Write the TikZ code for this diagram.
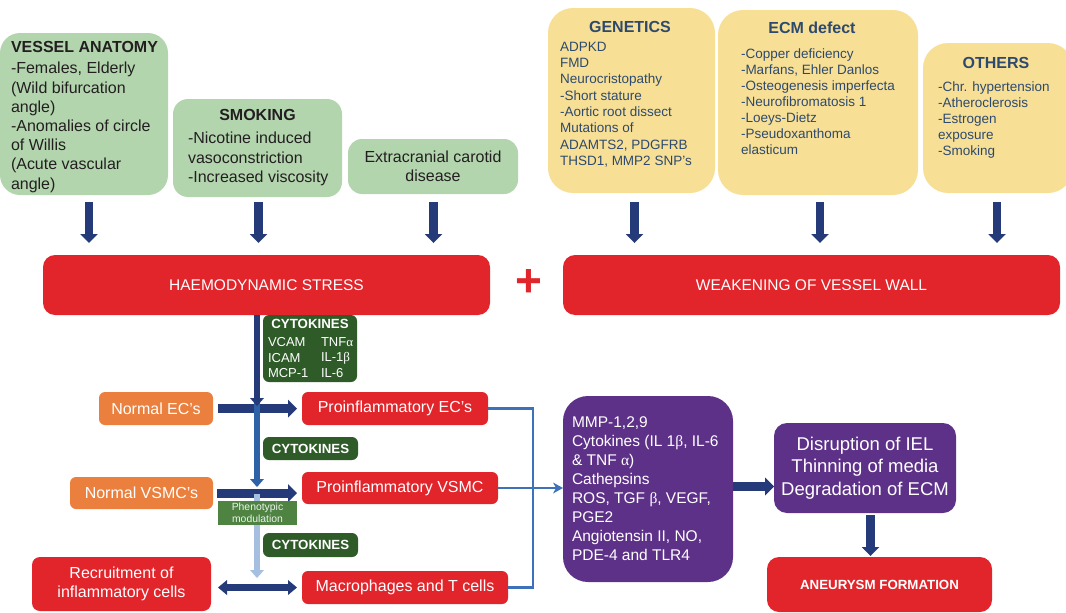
\documentclass[tikz,border=0pt]{standalone}
\usepackage{fontspec}
\setmainfont{Liberation Sans}
\newfontfamily\grk{Liberation Serif}
\usetikzlibrary{arrows.meta}
\newcommand\setfs[2]{\fontsize{#1}{#2}\selectfont}
\definecolor{gfill}{HTML}{B3D5AE}
\definecolor{yfill}{HTML}{F8DF96}
\definecolor{rfill}{HTML}{E2242B}
\definecolor{ofill}{HTML}{EB7F3D}
\definecolor{pfill}{HTML}{5E3189}
\definecolor{dgfill}{HTML}{2E5B27}
\definecolor{phfill}{HTML}{4E8342}
\definecolor{navy}{HTML}{253A78}
\definecolor{mblue}{HTML}{2E62A7}
\definecolor{lblue}{HTML}{A4BFDF}
\definecolor{bblue}{HTML}{3D72BA}
\definecolor{dtext}{HTML}{231F20}
\definecolor{ytext}{HTML}{2D4A6E}
\tikzset{
  box/.style={inner sep=0pt, outer sep=0pt, anchor=north west, align=center},
  gbox/.style={box, fill=gfill, text=dtext},
  ybox/.style={box, fill=yfill, text=ytext},
  rbox/.style={box, fill=rfill, text=white},
  obox/.style={box, fill=ofill, text=white, rounded corners=6pt, font=\setfs{16}{19}},
  pbox/.style={box, fill=pfill, text=white},
  cybox/.style={box, fill=dgfill, text=white, rounded corners=6pt, font=\setfs{13.3}{15}\bfseries},
  txt/.style={inner sep=0pt, outer sep=0pt, align=left, anchor=north west},
  ttl/.style={inner sep=0pt, outer sep=0pt, font=\setfs{16}{19}\bfseries},
  bigarrow/.style={draw=navy, line width=8.5pt, -{Triangle[width=17.5pt,length=9pt,line width=0pt]}},
  harrow/.style={draw=navy, line width=9pt, -{Triangle[width=18pt,length=9pt,line width=0pt]}},
  vline/.style={line width=6.5pt, -{Triangle[width=14pt,length=8pt,line width=0pt]}},
}
\begin{document}
\begin{tikzpicture}[x=1pt,y=-1pt]
\useasboundingbox (0,0) rectangle (1066,613);

% ---------- top green boxes ----------
\node[gbox, rounded corners=20pt, minimum width=168pt, minimum height=162pt] (va) at (0,33) {};
\node[txt, text=dtext, font=\setfs{16}{19.2}] (vat) at (11,41)
  {\textbf{VESSEL ANATOMY}\\[2.6pt]-Females, Elderly\\(Wild bifurcation\\angle)\\-Anomalies of circle\\of Willis\\(Acute vascular\\angle)};

\node[gbox, rounded corners=15pt, minimum width=169pt, minimum height=98pt] (sm) at (173,99) {};
\node[ttl, text=dtext] (smt) at (257.5,115) {SMOKING};
\node[txt, text=dtext, font=\setfs{16}{19.5}] (smb) at (188,132)
  {-Nicotine induced\\vasoconstriction\\-Increased viscosity};

\node[gbox, rounded corners=14pt, minimum width=170pt, minimum height=55pt, font=\setfs{16}{19}] (ex) at (348,139)
  {Extracranial carotid\\disease};

% ---------- top yellow boxes ----------
\node[ybox, rounded corners=25pt, minimum width=167pt, minimum height=185pt] (gen) at (548,8) {};
\node[ttl, text=ytext] (gent) at (630,27) {GENETICS};
\node[txt, text=ytext, font=\setfs{13.5}{16.3}] (genb) at (560,42)
  {ADPKD\\FMD\\Neurocristopathy\\-Short stature\\-Aortic root dissect\\Mutations of\\ADAMTS2, PDGFRB\\THSD1, MMP2 SNP’s};

\node[ybox, rounded corners=25pt, minimum width=200pt, minimum height=185pt] (ecm) at (718,10) {};
\node[ttl, text=ytext] (ecmt) at (812,28) {ECM defect};
\node[txt, text=ytext, font=\setfs{13.5}{16}] (ecmb) at (741,49)
  {-Copper deficiency\\-Marfans, Ehler Danlos\\-Osteogenesis imperfecta\\-Neurofibromatosis 1\\-Loeys-Dietz\\-Pseudoxanthoma\\elasticum};

\node[ybox, rounded corners=25pt, minimum width=150pt, minimum height=150pt] (oth) at (923,43) {};
\node[ttl, text=ytext] (otht) at (996,63) {OTHERS};
\node[txt, text=ytext, font=\setfs{13.5}{16}] (othb) at (938,82)
  {-Chr. hypertension\\-Atheroclerosis\\-Estrogen\\exposure\\-Smoking};

% ---------- red bands ----------
\node[rbox, rounded corners=12pt, minimum width=447pt, minimum height=60pt, font=\setfs{15.5}{18}] (haemo) at (43,255) {HAEMODYNAMIC STRESS};
\node[rbox, rounded corners=12pt, minimum width=497pt, minimum height=60pt, font=\setfs{15.5}{18}] (weak) at (563,255) {WEAKENING OF VESSEL WALL};
\node[inner sep=0pt, text=rfill, font=\setfs{46}{46}\bfseries] (plus) at (529,283) {+};

% top arrows
\draw[bigarrow] ([xshift=5pt,yshift=-7pt]va.south) -- ([xshift=5pt,yshift=12pt]va.south |- haemo.north);
\draw[bigarrow] ([xshift=1pt,yshift=-5pt]sm.south) -- ([xshift=1pt,yshift=12pt]sm.south |- haemo.north);
\draw[bigarrow] ([xshift=0.5pt,yshift=-8pt]ex.south) -- ([xshift=0.5pt,yshift=12pt]ex.south |- haemo.north);
\draw[bigarrow] ([xshift=3pt,yshift=-9pt]gen.south) -- ([xshift=3pt,yshift=12pt]gen.south |- weak.north);
\draw[bigarrow] ([xshift=2pt,yshift=-7pt]ecm.south) -- ([xshift=2pt,yshift=12pt]ecm.south |- weak.north);
\draw[bigarrow] ([xshift=-1pt,yshift=-9pt]oth.south) -- ([xshift=-1pt,yshift=12pt]oth.south |- weak.north);

% ---------- cytokine boxes ----------
\node[cybox, minimum width=94pt, minimum height=67pt] (cy1) at (263,315) {};
\node[inner sep=0pt, text=white, font=\setfs{13.3}{15}\bfseries] (cy1t) at (310,323.5) {CYTOKINES};
\node[txt, text=white, font=\setfs{13}{15.5}] (cy1a) at (268,337.5) {VCAM\\ICAM\\MCP-1};
\node[txt, text=white, font=\setfs{13}{15.5}] (cy1b) at (321,337.5) {TNF{\grk α}\\IL-1{\grk β}\\IL-6};
\node[cybox, minimum width=95pt, minimum height=23pt] (cy2) at (263,437) {CYTOKINES};
\node[cybox, minimum width=95pt, minimum height=24pt] (cy3) at (263,533) {CYTOKINES};

% ---------- cell boxes ----------
\node[obox, minimum width=114pt, minimum height=33pt] (nec) at (99,392) {Normal EC’s};
\node[obox, minimum width=143pt, minimum height=32pt] (nvs) at (70,477) {Normal VSMC’s};
\node[rbox, rounded corners=6pt, minimum width=186pt, minimum height=33pt, font=\setfs{16}{19}] (pec) at (302,392) {Proinflammatory EC’s};
\node[rbox, rounded corners=6pt, minimum width=196pt, minimum height=32pt, font=\setfs{16}{19}] (pvs) at (302,472) {Proinflammatory VSMC};
\node[rbox, rounded corners=8pt, minimum width=179pt, minimum height=54pt, font=\setfs{16}{19.5}] (rec) at (32,557) {Recruitment of\\inflammatory cells};
\node[rbox, rounded corners=6pt, minimum width=206pt, minimum height=33pt, font=\setfs{16}{19}] (mac) at (302,571) {Macrophages and T cells};

% ---------- purple boxes ----------
\node[pbox, rounded corners=25pt, minimum width=170pt, minimum height=186pt] (p1) at (563,396) {};
\node[txt, text=white, font=\setfs{15.5}{19}] (p1t) at (572,416.5)
  {MMP-1,2,9\\Cytokines (IL 1{\grk β}, IL-6\\\& TNF {\grk α})\\Cathepsins\\ROS, TGF {\grk β}, VEGF,\\PGE2\\Angiotensin II, NO,\\PDE-4 and TLR4};
\node[pbox, rounded corners=13pt, minimum width=182pt, minimum height=90pt, font=\setfs{18.5}{22.5}] (p2) at (774,423)
  {Disruption of IEL\\Thinning of media\\Degradation of ECM};
\node[rbox, rounded corners=12pt, minimum width=225pt, minimum height=55pt, font=\setfs{13.3}{15}\bfseries] (an) at (767,557) {ANEURYSM FORMATION};

% ---------- connectors ----------
\coordinate (v1) at (257,406);
\coordinate (v2top) at (257,398);
\coordinate (v2) at (257,487);
\coordinate (v3top) at (257,494);
\coordinate (v3) at (257,578);

\draw[harrow, shorten <=5pt] (nec.east) -- ([xshift=-5pt]nec.east -| pec.west);
\draw[vline, draw=mblue] (v2top) -- (v2);
\draw[vline, draw=navy] (v1 |- haemo.south) -- (v1);
\draw[harrow, shorten <=4pt] (nvs.east) -- ([xshift=-5pt]nvs.east -| pvs.west);
\draw[vline, draw=lblue] (v3top) -- (v3);
\node[box, fill=phfill, text=white!90!phfill, minimum width=79pt, minimum height=24pt, font=\setfs{10.4}{12}] (phen) at (218,501) {Phenotypic\\modulation};

\draw[draw=navy, line width=7pt, {Triangle[width=15pt,length=9pt,line width=0pt]}-{Triangle[width=15pt,length=9pt,line width=0pt]}, shorten <=7pt, shorten >=5pt]
  (rec.east |- mac.west) -- (mac.west);

\coordinate (bx) at (533,0);
\draw[draw=bblue, line width=2.5pt] (pec.east) -- (pec.east -| bx) -- (mac.east -| bx) -- (mac.east);
\draw[draw=bblue, line width=1.5pt, -{Stealth[width=11pt,length=10pt,inset=3pt,line width=0pt]}] (pvs.east) -- (pvs.east -| p1.west);

\draw[harrow] ([yshift=2.5pt]p1.east) -- ([yshift=2.5pt]p1.east -| p2.west);
\draw[bigarrow] ([xshift=5.5pt,yshift=-2pt]p2.south) -- ([xshift=5.5pt,yshift=1pt]p2.south |- an.north);
\end{tikzpicture}
\end{document}
